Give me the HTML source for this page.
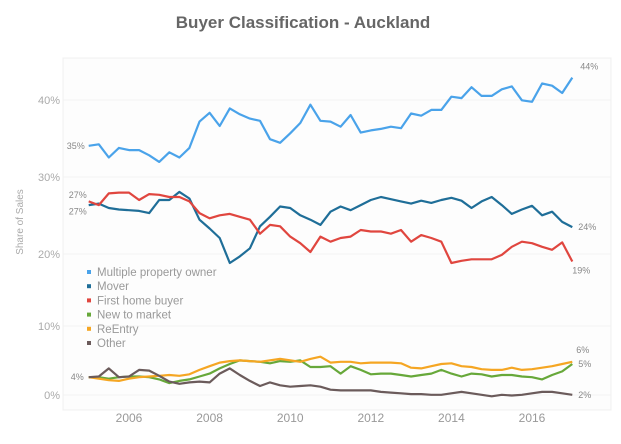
<!DOCTYPE html>
<html><head><meta charset="utf-8"><style>
body{margin:0;background:#fff;width:621px;height:439px;overflow:hidden;font-family:"Liberation Sans",sans-serif}
</style></head><body>
<svg id="chart" width="621" height="439" xmlns="http://www.w3.org/2000/svg" font-family="Liberation Sans, sans-serif">
<text x="303" y="28" text-anchor="middle" font-size="17" font-weight="bold" fill="#666">Buyer Classification - Auckland</text>
<rect x="63" y="58" width="548" height="352" fill="#fdfdfd" stroke="#f0f0f0"/>
<text transform="translate(23,222) rotate(-90)" text-anchor="middle" font-size="10" fill="#aaa">Share of Sales</text>
<g id="axes"></g>
<g id="series"></g>
<g id="legend"></g>
</svg>
<script>
const years=[2005,2017];
const xTicks=[2006,2008,2010,2012,2014,2016];
const yTickLabels=["0%","10%","20%","30%","40%"];
const yTickPos=[399,330,258,181,104];
const seriesNames=["Multiple property owner","Mover","First home buyer","New to market","ReEntry","Other"];
const mpo=[34.3,34.5,32.7,34.0,33.7,33.7,33.0,32.1,33.4,32.7,34.0,37.6,38.8,37.0,39.4,38.6,38.0,37.7,35.2,34.7,36.0,37.4,39.9,37.7,37.6,36.9,38.5,36.1,36.4,36.6,36.9,36.7,38.7,38.4,39.2,39.2,41.0,40.8,42.3,41.1,41.1,42.0,42.4,40.5,40.3,42.8,42.5,41.5,43.6];
const mover=[26.2,26.4,25.8,25.6,25.5,25.4,25.1,26.9,26.9,28.0,27.1,24.2,23.0,21.7,18.3,19.2,20.3,23.3,24.6,26.0,25.8,24.8,24.2,23.5,25.3,26.0,25.5,26.2,26.9,27.3,27.0,26.7,26.4,26.8,26.5,26.9,27.2,26.8,25.8,26.7,27.3,26.2,25.0,25.6,26.1,24.8,25.3,23.9,23.2];
const fhb=[26.7,26.2,27.8,27.9,27.9,26.9,27.7,27.6,27.3,27.3,26.7,25.1,24.4,24.8,25.0,24.6,24.2,22.3,23.5,23.3,21.9,21.0,19.8,21.9,21.2,21.7,21.9,22.8,22.6,22.6,22.3,22.8,21.2,22.1,21.7,21.2,18.3,18.6,18.8,18.8,18.8,19.4,20.5,21.2,21.0,20.5,20.1,21.1,18.5];
const ntm=[2.7,2.7,2.5,2.7,2.8,2.8,2.7,2.4,1.9,2.2,2.4,2.8,3.2,3.9,4.5,5.0,4.9,4.8,4.6,4.9,4.8,5.0,4.1,4.1,4.2,3.2,4.2,3.7,3.1,3.2,3.2,3.0,2.8,3.0,3.2,3.7,3.2,2.8,3.2,3.1,2.8,3.0,3.0,2.8,2.7,2.4,3.0,3.5,4.5];
const reentry=[2.7,2.5,2.3,2.2,2.5,2.7,2.8,2.9,3.0,2.9,3.1,3.7,4.2,4.7,4.9,5.0,4.9,4.8,5.0,5.2,5.0,4.8,5.2,5.5,4.7,4.8,4.8,4.6,4.7,4.7,4.7,4.6,4.0,3.9,4.2,4.5,4.6,4.2,4.1,3.8,3.7,3.7,4.0,3.7,3.8,4.0,4.2,4.5,4.8];
const other=[2.7,2.8,3.9,2.7,2.8,3.7,3.6,2.9,2.1,1.8,2.0,2.1,2.0,3.2,3.9,3.0,2.2,1.5,2.0,1.6,1.4,1.5,1.6,1.4,1.0,0.9,0.9,0.9,0.9,0.7,0.6,0.5,0.4,0.4,0.3,0.3,0.5,0.7,0.5,0.3,0.1,0.3,0.2,0.3,0.5,0.7,0.7,0.5,0.3];
const colors=["#4aa3ea","#1f6e98","#e0463f","#67a83a","#f5a623","#6b5b5b"];
const startLabels=["35%","27%","27%","","4%",""];
const endLabels=["44%","24%","19%","5%","6%","2%"];
const NS="http://www.w3.org/2000/svg";
function x(yr){return 129+(yr-2006)*40.3;}
function y(v){return 397-v*7.325;}
const axes=document.getElementById('axes');
yTickLabels.forEach((l,i)=>{
  const g=document.createElementNS(NS,'line');
  g.setAttribute('x1',63);g.setAttribute('x2',611);g.setAttribute('y1',yTickPos[i]-4);g.setAttribute('y2',yTickPos[i]-4);g.setAttribute('stroke','#f2f2f2');
  
  
  axes.appendChild(g);
  const t=document.createElementNS(NS,'text');
  t.setAttribute('x',60);t.setAttribute('y',yTickPos[i]);t.setAttribute('text-anchor','end');t.setAttribute('font-size','11');t.setAttribute('fill','#aaa');
  t.textContent=l;
  
  
  axes.appendChild(t);
});
xTicks.forEach(v=>{
  const t=document.createElementNS(NS,'text');
  t.setAttribute('x',x(v));t.setAttribute('y',422);t.setAttribute('text-anchor','middle');t.setAttribute('font-size','12');t.setAttribute('fill','#999');
  t.textContent=v;
  
  
  axes.appendChild(t);
});
const data=[mpo,mover,fhb,ntm,reentry,other];
const sg=document.getElementById('series');
const endOff=[[8,-8],[6,3],[0,12],[6,3],[4,-9],[6,3]];
const startOff=[[-22,3],[-20,-7],[-20,13],[0,0],[-18,3],[0,0]];
data.forEach((arr,si)=>{
  const n=arr.length, step=(years[1]-years[0])/(n-1);
  const pts=arr.map((v,i)=>x(years[0]+i*step).toFixed(1)+','+y(v).toFixed(1)).join(' ');
  const p=document.createElementNS(NS,'polyline');
  p.setAttribute('points',pts);p.setAttribute('fill','none');p.setAttribute('stroke',colors[si]);p.setAttribute('stroke-width','2.2');p.setAttribute('stroke-linejoin','round');
  
  
  sg.appendChild(p);
  if(startLabels[si]){
    const t=document.createElementNS(NS,'text');
    t.setAttribute('x',x(years[0])+startOff[si][0]);t.setAttribute('y',y(arr[0])+startOff[si][1]);t.setAttribute('font-size','9');t.setAttribute('fill','#888');
    t.textContent=startLabels[si];
    
    
    sg.appendChild(t);
  }
  const e=document.createElementNS(NS,'text');
  e.setAttribute('x',x(years[1])+endOff[si][0]);e.setAttribute('y',y(arr[n-1])+endOff[si][1]);e.setAttribute('font-size','9');e.setAttribute('fill','#888');
  e.textContent=endLabels[si];
  
  
  sg.appendChild(e);
});
const lg=document.getElementById('legend');
seriesNames.forEach((nm,i)=>{
  const r=document.createElementNS(NS,'rect');
  r.setAttribute('x',87);r.setAttribute('y',270+i*14.2);r.setAttribute('width',4);r.setAttribute('height',4);r.setAttribute('fill',colors[i]);
  
  
  lg.appendChild(r);
  const t=document.createElementNS(NS,'text');
  t.setAttribute('x',97);t.setAttribute('y',276+i*14.2);t.setAttribute('font-size','11.5');t.setAttribute('fill','#999');
  t.textContent=nm;
  
  
  lg.appendChild(t);
});
</script>
</body></html>
